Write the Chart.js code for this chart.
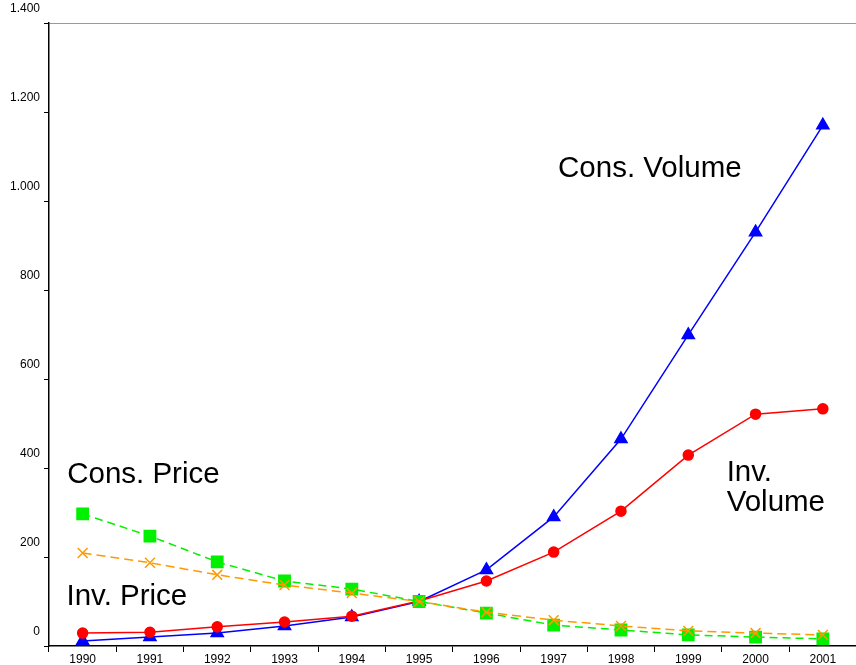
<!DOCTYPE html>
<html>
<head>
<meta charset="utf-8">
<script src="https://cdn.jsdelivr.net/npm/chart.js@4"></script>
<style>
  html, body { margin: 0; padding: 0; background: #fff; overflow: hidden; }
  canvas { display: block; }
</style>
</head>
<body>
<canvas id="myChart" width="866" height="665"></canvas>
<script>
// Years on the x axis
const years = ['1990', '1991', '1992', '1993', '1994', '1995', '1996', '1997', '1998', '1999', '2000', '2001'];

// Series
const consVolume = [11, 20, 29, 45, 65, 100, 171, 290, 465, 699, 930, 1170];
const invVolume = [29, 31, 43, 54, 67, 101, 146, 211, 303, 429, 521, 533];
const consPrice = [297, 247, 189, 146, 128, 100, 74, 47, 36, 25, 20, 16];
const invPrice = [209, 187, 160, 137, 119, 100, 76, 58, 45, 34, 29, 25];

// Y tick values
const yTicks = [0, 200, 400, 600, 800, 1000, 1200, 1400];

// Text labels next to the lines: text, category index, value
const notes = [
    ['Cons. Volume', 7.065, 1054],
    ['Cons. Price', -0.23, 366],
    ['Inv. Price', -0.24, 92],
    ['Inv.', 9.57, 371],
    ['Volume', 9.57, 303]
];

const fmt = v => v >= 1000 ? Math.floor(v / 1000) + '.' + String(v % 1000).padStart(3, '0') : String(v);

// Draw the series labels in data coordinates
const notePlugin = {
    id: 'notes',
    afterDatasetsDraw(chart) {
        const c = chart.ctx;
        const x = chart.scales.x, y = chart.scales.y;
        const step = x.getPixelForValue(1) - x.getPixelForValue(0);
        c.save();
        c.font = '29.5px "Liberation Sans", Arial, sans-serif';
        c.fillStyle = '#000';
        c.textAlign = 'left';
        c.textBaseline = 'alphabetic';
        notes.forEach(n => {
            c.fillText(n[0], x.getPixelForValue(0) + n[1] * step, y.getPixelForValue(n[2]));
        });
        c.restore();
    }
};

const ctx = document.getElementById('myChart').getContext('2d');

const myChart = new Chart(ctx, {
    type: 'line',
    data: {
        labels: years,
        datasets: [
            {
                label: 'Cons. Volume',
                data: consVolume,
                order: 3,
                borderColor: '#0000ff',
                backgroundColor: '#0000ff',
                borderWidth: 1.5,
                pointStyle: 'triangle',
                pointRadius: 7,
                tension: 0
            },
            {
                label: 'Inv. Volume',
                data: invVolume,
                order: 2,
                borderColor: '#ff0000',
                backgroundColor: '#ff0000',
                borderWidth: 1.5,
                pointStyle: 'circle',
                pointRadius: 5,
                tension: 0
            },
            {
                label: 'Cons. Price',
                data: consPrice,
                order: 1,
                borderColor: '#00f000',
                backgroundColor: '#00f000',
                borderWidth: 1.5,
                borderDash: [8, 5],
                pointStyle: 'rect',
                pointRadius: 8,
                tension: 0
            },
            {
                label: 'Inv. Price',
                data: invPrice,
                order: 0,
                borderColor: '#ff9900',
                backgroundColor: '#ff9900',
                pointBorderColor: '#ff9900',
                pointBorderWidth: 1.5,
                borderWidth: 1.5,
                borderDash: [9, 5],
                pointStyle: 'crossRot',
                pointRadius: 7,
                tension: 0
            }
        ]
    },
    options: {
        responsive: false,
        animation: false,
        layout: { padding: { top: 23, right: 3, left: 0, bottom: 0 } },
        plugins: {
            legend: { display: false },
            tooltip: { enabled: false }
        },
        scales: {
            x: {
                offset: true,
                grid: {
                    offset: true,
                    drawOnChartArea: false,
                    tickLength: 6,
                    tickColor: '#000'
                },
                border: { color: '#000', width: 1.5 },
                ticks: {
                    color: '#000',
                    padding: 0,
                    maxRotation: 0,
                    autoSkip: false,
                    font: { family: '"Liberation Sans", Arial, sans-serif', size: 12 }
                },
                afterFit(scale) { scale.height = 19; }
            },
            y: {
                min: 0,
                max: 1400,
                afterBuildTicks(scale) { scale.ticks = yTicks.map(v => ({ value: v })); },
                grid: {
                    color: c => (c.tick && c.tick.value === 1400) ? '#999' : 'rgba(0,0,0,0)',
                    tickColor: '#000',
                    tickLength: 5
                },
                border: { color: '#000', width: 1.5 },
                ticks: {
                    color: '#000',
                    padding: 4,
                    labelOffset: -14,
                    callback: v => fmt(v),
                    font: { family: '"Liberation Sans", Arial, sans-serif', size: 12 }
                },
                afterFit(scale) { scale.width = 49; }
            }
        }
    },
    plugins: [notePlugin]
});
</script>
</body>
</html>
